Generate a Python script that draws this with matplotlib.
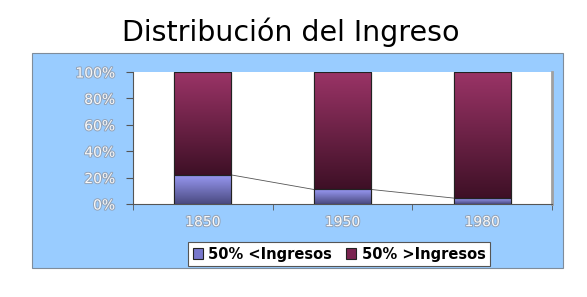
import matplotlib
matplotlib.use("Agg")
import matplotlib.pyplot as plt
import numpy as np
from matplotlib.patches import Rectangle
import matplotlib.patheffects as pe
from matplotlib.colors import LinearSegmentedColormap

categories = ["1850", "1950", "1980"]
lower_half = [22, 11, 4.5]          # 50% <Ingresos (share, %)
upper_half = [78, 89, 95.5]         # 50% >Ingresos (share, %)
series_names = ["50% <Ingresos", "50% >Ingresos"]
yticks = [0, 20, 40, 60, 80, 100]
ytick_labels = ["0%", "20%", "40%", "60%", "80%", "100%"]

plt.rcParams['font.family'] = ['DejaVu Sans']

fig = plt.figure(figsize=(5.87, 2.97), dpi=100)
fig.patch.set_facecolor('white')

# light-blue chart area
bg = Rectangle((32/587, 1-268/297), (563-32)/587, (268-53)/297,
               transform=fig.transFigure, facecolor='#99ccff',
               edgecolor='#7f8c9a', linewidth=0.8, zorder=-10)
fig.patches.append(bg)

fig.text(0.495, 0.893, "Distribución del Ingreso", ha='center', va='center',
         fontsize=20.5, color='black')

ax = fig.add_axes([133/587, 1-204/297, (552-133)/587, (204-72)/297])
ax.set_facecolor('white')

x = np.arange(len(categories))
width = 0.41
b1 = ax.bar(x, lower_half, width, color='#9999ff', edgecolor='#222222', linewidth=0.8, zorder=3)
b2 = ax.bar(x, upper_half, width, bottom=lower_half, color='#993366', edgecolor='#222222',
            linewidth=0.8, zorder=3)

cmap_low = LinearSegmentedColormap.from_list('low', ['#4a4a80', '#9a9af5'])
cmap_up = LinearSegmentedColormap.from_list('up', ['#3e1026', '#9b3467'])
grad = np.linspace(0, 1, 256).reshape(-1, 1)
for bars, cmap in ((b1, cmap_low), (b2, cmap_up)):
    for r in bars:
        x0, y0 = r.get_x(), r.get_y()
        w, h = r.get_width(), r.get_height()
        im = ax.imshow(grad, cmap=cmap, aspect='auto', origin='lower',
                       extent=(x0, x0 + w, y0, y0 + h), zorder=3.5, interpolation='bilinear')
        im.set_clip_path(r)
        ax.add_patch(Rectangle((x0, y0), w, h, fill=False, edgecolor='#222222',
                               linewidth=0.8, zorder=4))

# series lines between stacked tops
for i in range(len(categories) - 1):
    ax.plot([x[i] + width/2, x[i+1] - width/2], [lower_half[i], lower_half[i+1]],
            color='#555555', linewidth=0.6, zorder=2)

ax.set_xlim(-0.5, len(categories) - 0.5)
ax.set_ylim(0, 100)
ax.set_yticks(yticks)
ax.set_yticklabels(ytick_labels)
ax.set_xticks(x)
ax.set_xticklabels(categories)
ax.set_xticks(np.arange(len(categories) + 1) - 0.5, minor=True)
ax.tick_params(axis='x', which='major', length=0, pad=8)
ax.tick_params(axis='x', which='minor', length=4, color='#555555', direction='out')
ax.tick_params(axis='y', length=5, color='#555555', direction='out', pad=8)
for lab in ax.get_yticklabels() + ax.get_xticklabels():
    lab.set_fontsize(10)
    lab.set_color('#f8f8f8')
    lab.set_path_effects([pe.withStroke(linewidth=1.4, foreground='#93a3b8')])

ax.spines['top'].set_visible(False)
ax.spines['right'].set_color('#a0a0a0')
ax.spines['right'].set_linewidth(2)
ax.spines['left'].set_color('#555555')
ax.spines['bottom'].set_color('#555555')
ax.spines['left'].set_linewidth(0.8)
ax.spines['bottom'].set_linewidth(0.8)

handles = [Rectangle((0, 0), 1, 1, facecolor='#7777cc', edgecolor='#222222', linewidth=0.8),
           Rectangle((0, 0), 1, 1, facecolor='#7a2450', edgecolor='#222222', linewidth=0.8)]
leg = fig.legend(handles, series_names, loc='center', bbox_to_anchor=(339/587, 1-254/297),
                 ncol=2, frameon=True, fancybox=False, framealpha=1, edgecolor='#555555',
                 prop={'weight': 'bold', 'size': 10.5}, handlelength=0.7, handleheight=0.7,
                 handletextpad=0.35, columnspacing=1.0, borderpad=0.3)
leg.get_frame().set_linewidth(0.8)

fig.savefig('out.png', dpi=100, facecolor='white')
